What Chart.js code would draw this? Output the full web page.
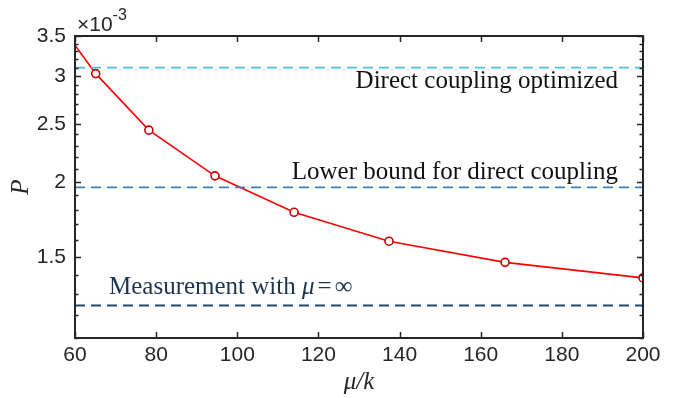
<!DOCTYPE html>
<html>
<head>
<meta charset="utf-8">
<script src="https://cdn.jsdelivr.net/npm/chart.js@4"></script>
<style>
  html, body { margin: 0; padding: 0; background: #fff; }
  #wrap { width: 676px; height: 398px; }
</style>
</head>
<body>
<div id="wrap"><canvas id="chart" width="676" height="398"></canvas></div>
<script>
// data
const muOverK = [60, 65.1, 78.2, 94.5, 114, 137.4, 166, 200];
const pValues = [3.38e-3, 3.03e-3, 2.44e-3, 2.048e-3, 1.781e-3, 1.594e-3, 1.47e-3, 1.385e-3];
const markerSizes = [0, 4, 4, 4, 4, 4, 4, 4];

const refRange = [60, 200];
const directOptimized = 3.1e-3;
const lowerBound = 1.96e-3;
const measurementInf = 1.246e-3;

const yMajor = [1.5e-3, 2e-3, 2.5e-3, 3e-3, 3.5e-3];
const yMinor = [1.1e-3, 1.2e-3, 1.3e-3, 1.4e-3, 1.6e-3, 1.7e-3, 1.8e-3, 1.9e-3,
                2.1e-3, 2.2e-3, 2.3e-3, 2.4e-3, 2.6e-3, 2.7e-3, 2.8e-3, 2.9e-3,
                3.1e-3, 3.2e-3, 3.3e-3, 3.4e-3];
const xTicks = [60, 80, 100, 120, 140, 160, 180, 200];

const axisColor = '#262626';
const serif = '"Liberation Serif", "DejaVu Serif", serif';
const sans = '"Liberation Sans", Arial, sans-serif';

function isMajor(v) {
    return yMajor.some(m => Math.abs(m - v) < 1e-9);
}

// MATLAB style box with inward ticks, exponent and the text notes
const matlabBox = {
    id: 'matlabBox',
    afterDatasetsDraw(chart) {
        const ctx = chart.ctx;
        const area = chart.chartArea;
        const xs = chart.scales.x;
        const ys = chart.scales.y;
        ctx.save();
        ctx.strokeStyle = axisColor;
        ctx.lineWidth = 1.5;
        ctx.beginPath();
        xTicks.forEach(v => {
            const px = Math.round(xs.getPixelForValue(v)) + 0.5;
            ctx.moveTo(px, area.bottom); ctx.lineTo(px, area.bottom - 6);
            ctx.moveTo(px, area.top); ctx.lineTo(px, area.top + 6);
        });
        yMajor.concat(yMinor).forEach(v => {
            const py = Math.round(ys.getPixelForValue(v)) + 0.5;
            const len = isMajor(v) ? 6 : 3.5;
            ctx.moveTo(area.left, py); ctx.lineTo(area.left + len, py);
            ctx.moveTo(area.right, py); ctx.lineTo(area.right - len, py);
        });
        ctx.stroke();
        ctx.lineWidth = 2;
        ctx.strokeRect(area.left, area.top, area.right - area.left, area.bottom - area.top);

        // exponent label
        ctx.fillStyle = axisColor;
        ctx.textBaseline = 'alphabetic';
        ctx.textAlign = 'left';
        ctx.font = '21px ' + sans;
        ctx.fillText('\u00d710', area.left + 2, area.top - 5);
        const w = ctx.measureText('\u00d710').width;
        ctx.font = '16px ' + sans;
        ctx.fillText('-3', area.left + 2 + w, area.top - 16);

        // notes on the reference lines
        ctx.fillStyle = '#111';
        ctx.font = '25px ' + serif;
        ctx.textAlign = 'right';
        ctx.textBaseline = 'middle';
        ctx.fillText('Direct coupling optimized', area.right - 25, ys.getPixelForValue(directOptimized) + 14);
        ctx.fillText('Lower bound for direct coupling', area.right - 25, ys.getPixelForValue(lowerBound) - 15);

        ctx.textAlign = 'left';
        ctx.fillStyle = '#1b3550';
        let tx = area.left + 34;
        const ty = ys.getPixelForValue(measurementInf) - 18;
        const part1 = 'Measurement with ';
        ctx.fillText(part1, tx, ty);
        tx += ctx.measureText(part1).width;
        ctx.font = 'italic 25px ' + serif;
        ctx.fillText('\u03bc', tx, ty);
        tx += ctx.measureText('\u03bc').width + 3;
        ctx.font = '25px ' + serif;
        ctx.fillText('=', tx, ty);
        tx += ctx.measureText('=').width + 3;
        ctx.fillText('\u221e', tx, ty);
        ctx.restore();
    }
};

function refLine(label, value, color) {
    return {
        label: label,
        data: refRange.map(x => ({ x: x, y: value })),
        borderColor: color,
        borderWidth: 1.8,
        borderDash: [10, 6],
        pointRadius: 0,
        fill: false
    };
}

new Chart(document.getElementById('chart'), {
    type: 'line',
    data: {
        datasets: [
            refLine('Direct coupling optimized', directOptimized, '#4DBEEE'),
            refLine('Lower bound for direct coupling', lowerBound, '#3A80B8'),
            refLine('Measurement with mu = inf', measurementInf, '#1F4A6B'),
            {
                label: 'P',
                data: muOverK.map((x, i) => ({ x: x, y: pValues[i] })),
                borderColor: '#ff0000',
                borderWidth: 1.6,
                pointRadius: markerSizes,
                pointBorderColor: '#c80000',
                pointBackgroundColor: '#ffffff',
                pointBorderWidth: 1.6,
                tension: 0
            }
        ]
    },
    options: {
        responsive: false,
        animation: false,
        devicePixelRatio: 1,
        layout: { padding: { top: 36, right: 33, left: 0, bottom: 0 } },
        plugins: { legend: { display: false }, tooltip: { enabled: false } },
        scales: {
            x: {
                type: 'linear',
                min: 60,
                max: 200,
                afterBuildTicks: s => { s.ticks = xTicks.map(v => ({ value: v })); },
                afterFit: s => { s.height = 60; },
                grid: { display: false, drawTicks: false },
                border: { display: false },
                ticks: { color: axisColor, font: { family: sans, size: 21 }, padding: 5, maxRotation: 0 },
                title: {
                    display: true,
                    text: '\u03bc/k',
                    color: axisColor,
                    font: { family: serif, size: 25, style: 'italic' },
                    padding: { top: 0, bottom: 1 }
                }
            },
            y: {
                type: 'logarithmic',
                min: 1.1e-3,
                max: 3.5e-3,
                afterBuildTicks: s => { s.ticks = yMajor.concat(yMinor).sort((a, b) => a - b).map(v => ({ value: v })); },
                afterFit: s => { s.width = 75; },
                grid: { display: false, drawTicks: false },
                border: { display: false },
                ticks: {
                    color: axisColor,
                    font: { family: sans, size: 21 },
                    padding: 9,
                    autoSkip: false,
                    callback: v => isMajor(v) ? String(Math.round(v * 1e4) / 10) : ''
                },
                title: {
                    display: true,
                    text: 'P',
                    color: axisColor,
                    font: { family: serif, size: 25, style: 'italic' },
                    padding: { top: 6, bottom: 0 }
                }
            }
        }
    },
    plugins: [matlabBox]
});
</script>
</body>
</html>
